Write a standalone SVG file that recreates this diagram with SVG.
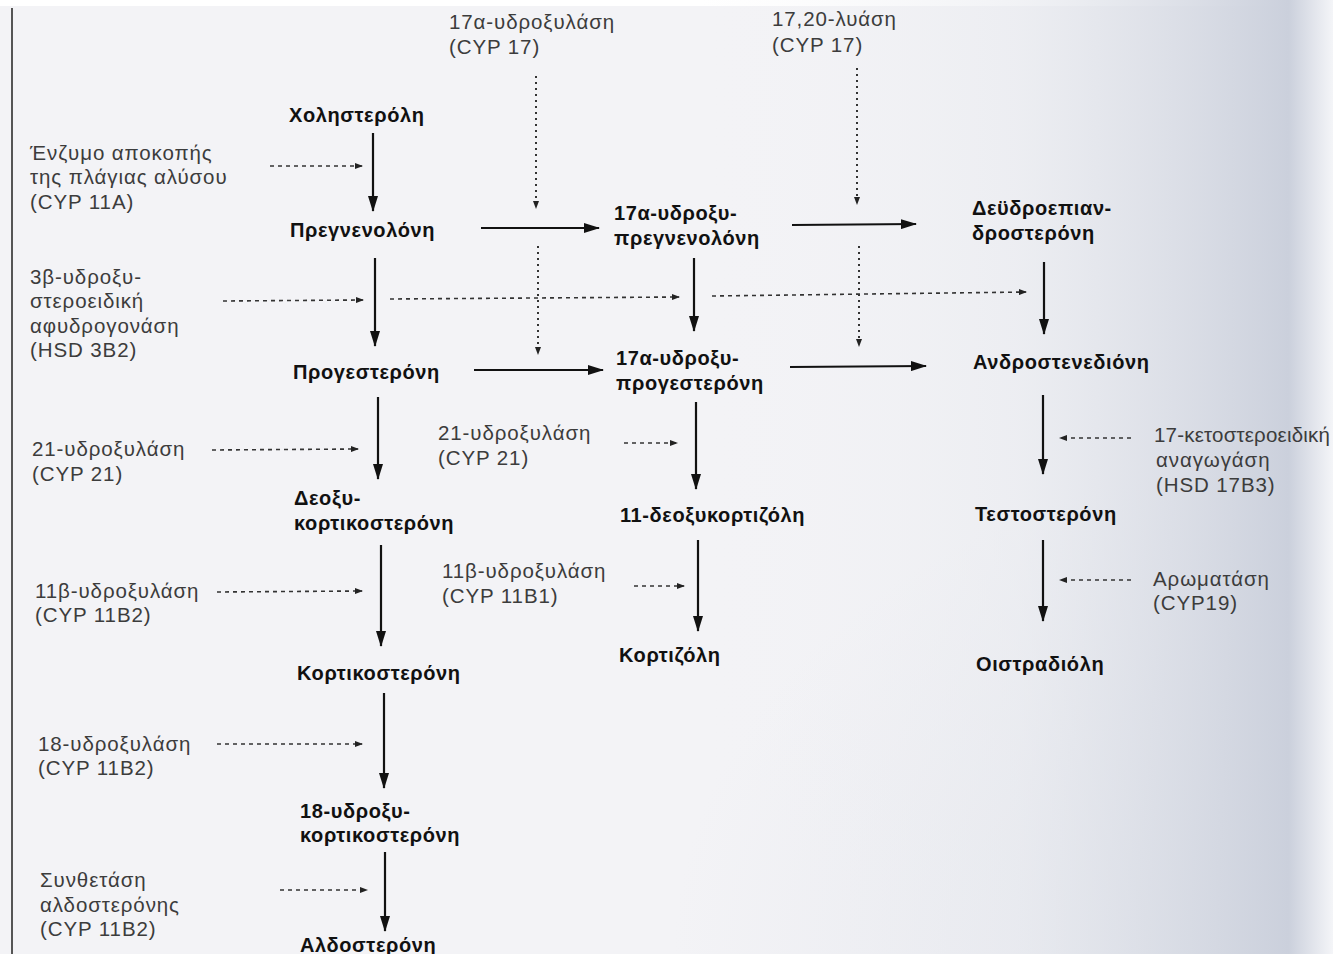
<svg xmlns="http://www.w3.org/2000/svg" width="1333" height="954" viewBox="0 0 1333 954">
<defs>
<linearGradient id="bleed" x1="0" y1="0" x2="1" y2="0">
<stop offset="0" stop-color="#f3f3f6" stop-opacity="0"/>
<stop offset="0.5" stop-color="#e8eaef" stop-opacity="0.6"/>
<stop offset="0.93" stop-color="#cbd0dc" stop-opacity="1"/>
<stop offset="1" stop-color="#f4f5f8" stop-opacity="1"/>
</linearGradient>
<radialGradient id="bleed2" cx="1" cy="1" r="0.9">
<stop offset="0" stop-color="#d6dae4" stop-opacity="0.9"/>
<stop offset="1" stop-color="#e3e5ec" stop-opacity="0"/>
</radialGradient>
<marker id="ah" viewBox="0 0 16 10" markerWidth="16" markerHeight="10" markerUnits="userSpaceOnUse" refX="15" refY="5" orient="auto">
<path d="M0,0 L16,5 L0,10 z" fill="#111"/>
</marker>
<marker id="ahs" viewBox="0 0 8 6" markerWidth="8" markerHeight="6" markerUnits="userSpaceOnUse" refX="7" refY="3" orient="auto">
<path d="M0,0 L8,3 L0,6 z" fill="#222"/>
</marker>
<style>
.node{font-family:"Liberation Sans",Arial,sans-serif;font-weight:bold;font-size:20px;letter-spacing:0.6px;fill:#111}
.enz{font-family:"Liberation Sans",Arial,sans-serif;font-size:20.5px;letter-spacing:0.9px;fill:#3c3c3c}
.tight{letter-spacing:0.2px}
.solid{stroke:#111;stroke-width:2.2;fill:none;marker-end:url(#ah)}
.dash{stroke:#333;stroke-width:1.6;fill:none;stroke-dasharray:4 4;marker-end:url(#ahs)}
.dot{stroke:#333;stroke-width:2;fill:none;stroke-dasharray:2 4;marker-end:url(#ahs)}
</style>
</defs>
<rect x="0" y="0" width="1333" height="954" fill="#f3f3f6"/>
<rect x="0" y="0" width="1333" height="6" fill="#ffffff"/>
<rect x="600" y="400" width="733" height="554" fill="url(#bleed2)"/>
<rect x="700" y="0" width="633" height="954" fill="url(#bleed)"/>
<line x1="12" y1="8" x2="12" y2="954" stroke="#555" stroke-width="2"/>

<g id="connectors">
<line class="solid" x1="373" y1="133" x2="373" y2="211"/>
<line class="solid" x1="375" y1="258" x2="375" y2="346"/>
<line class="solid" x1="378" y1="397" x2="378" y2="479"/>
<line class="solid" x1="381" y1="545" x2="381" y2="646"/>
<line class="solid" x1="384" y1="693" x2="384" y2="788"/>
<line class="solid" x1="385" y1="852" x2="385" y2="931"/>
<line class="solid" x1="481" y1="228" x2="599" y2="228"/>
<line class="solid" x1="474" y1="370" x2="603" y2="370"/>
<line class="solid" x1="694" y1="258" x2="694" y2="331"/>
<line class="solid" x1="696" y1="402" x2="696" y2="489"/>
<line class="solid" x1="698" y1="540" x2="698" y2="631"/>
<line class="solid" x1="792" y1="225" x2="916" y2="224"/>
<line class="solid" x1="790" y1="367" x2="926" y2="366"/>
<line class="solid" x1="1044" y1="262" x2="1044" y2="334"/>
<line class="solid" x1="1043" y1="395" x2="1043" y2="474"/>
<line class="solid" x1="1043" y1="540" x2="1043" y2="621"/>
<line class="dash" x1="270" y1="166" x2="362" y2="166"/>
<line class="dash" x1="223" y1="301" x2="363" y2="300"/>
<line class="dash" x1="390" y1="299" x2="679" y2="297"/>
<line class="dash" x1="712" y1="296" x2="1026" y2="292"/>
<line class="dash" x1="212" y1="450" x2="358" y2="449"/>
<line class="dash" x1="217" y1="592" x2="362" y2="591"/>
<line class="dash" x1="217" y1="744" x2="362" y2="744"/>
<line class="dash" x1="280" y1="890" x2="367" y2="890"/>
<line class="dash" x1="624" y1="443" x2="677" y2="443"/>
<line class="dash" x1="634" y1="586" x2="684" y2="586"/>
<line class="dash" x1="1131" y1="438" x2="1060" y2="438"/>
<line class="dash" x1="1131" y1="580" x2="1060" y2="580"/>
<line class="dot" x1="536" y1="76" x2="536" y2="208"/>
<line class="dot" x1="538" y1="246" x2="538" y2="354"/>
<line class="dot" x1="857" y1="68" x2="857" y2="204"/>
<line class="dot" x1="859" y1="246" x2="859" y2="346"/>
</g>

<g id="n-cholesterol"><text class="node" x="289" y="122">Χοληστερόλη</text></g>
<g id="n-pregnenolone"><text class="node" x="290" y="237">Πρεγνενολόνη</text></g>
<g id="n-progesterone"><text class="node" x="293" y="379">Προγεστερόνη</text></g>
<g id="n-deoxycorticosterone"><text class="node" x="294" y="505">Δεοξυ-</text><text class="node" x="294" y="530">κορτικοστερόνη</text></g>
<g id="n-corticosterone"><text class="node" x="297" y="680">Κορτικοστερόνη</text></g>
<g id="n-18oh-corticosterone"><text class="node" x="300" y="818">18-υδροξυ-</text><text class="node" x="300" y="842">κορτικοστερόνη</text></g>
<g id="n-aldosterone"><text class="node" x="300" y="952">Αλδοστερόνη</text></g>
<g id="n-17oh-pregnenolone"><text class="node" x="614" y="220">17α-υδροξυ-</text><text class="node" x="614" y="245">πρεγνενολόνη</text></g>
<g id="n-17oh-progesterone"><text class="node" x="616" y="365">17α-υδροξυ-</text><text class="node" x="616" y="390">προγεστερόνη</text></g>
<g id="n-11-deoxycortisol"><text class="node" x="620" y="522">11-δεοξυκορτιζόλη</text></g>
<g id="n-cortisol"><text class="node" x="619" y="662">Κορτιζόλη</text></g>
<g id="n-dhea"><text class="node" x="972" y="215">Δεϋδροεπιαν-</text><text class="node" x="972" y="240">δροστερόνη</text></g>
<g id="n-androstenedione"><text class="node" x="973" y="369">Ανδροστενεδιόνη</text></g>
<g id="n-testosterone"><text class="node" x="975" y="521">Τεστοστερόνη</text></g>
<g id="n-estradiol"><text class="node" x="976" y="671">Οιστραδιόλη</text></g>

<g id="e-cyp11a"><text class="enz" x="30" y="160">Ένζυμο αποκοπής</text><text class="enz" x="30" y="184">της πλάγιας αλύσου</text><text class="enz" x="30" y="209">(CYP 11A)</text></g>
<g id="e-hsd3b2"><text class="enz" x="30" y="284">3β-υδροξυ-</text><text class="enz" x="30" y="308">στεροειδική</text><text class="enz" x="30" y="333">αφυδρογονάση</text><text class="enz" x="30" y="357">(HSD 3B2)</text></g>
<g id="e-cyp21-left"><text class="enz" x="32" y="456">21-υδροξυλάση</text><text class="enz" x="32" y="481">(CYP 21)</text></g>
<g id="e-cyp11b2-a"><text class="enz" x="35" y="598">11β-υδροξυλάση</text><text class="enz" x="35" y="622">(CYP 11B2)</text></g>
<g id="e-cyp11b2-b"><text class="enz" x="38" y="751">18-υδροξυλάση</text><text class="enz" x="38" y="775">(CYP 11B2)</text></g>
<g id="e-cyp11b2-c"><text class="enz" x="40" y="887">Συνθετάση</text><text class="enz" x="40" y="912">αλδοστερόνης</text><text class="enz" x="40" y="936">(CYP 11B2)</text></g>
<g id="e-cyp17-hydroxylase"><text class="enz" x="449" y="29">17α-υδροξυλάση</text><text class="enz" x="449" y="54">(CYP 17)</text></g>
<g id="e-cyp17-lyase"><text class="enz" x="772" y="26">17,20-λυάση</text><text class="enz" x="772" y="52">(CYP 17)</text></g>
<g id="e-cyp21-mid"><text class="enz" x="438" y="440">21-υδροξυλάση</text><text class="enz" x="438" y="465">(CYP 21)</text></g>
<g id="e-cyp11b1"><text class="enz" x="442" y="578">11β-υδροξυλάση</text><text class="enz" x="442" y="603">(CYP 11B1)</text></g>
<g id="e-hsd17b3"><text class="enz tight" x="1154" y="442">17-κετοστεροειδική</text><text class="enz" x="1156" y="467">αναγωγάση</text><text class="enz" x="1156" y="492">(HSD 17B3)</text></g>
<g id="e-cyp19"><text class="enz" x="1153" y="586">Αρωματάση</text><text class="enz" x="1153" y="610">(CYP19)</text></g>
</svg>
